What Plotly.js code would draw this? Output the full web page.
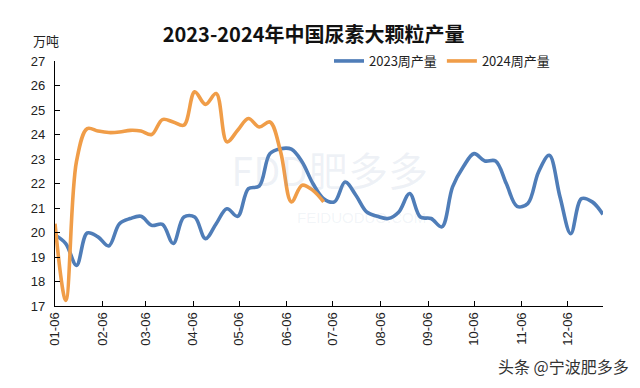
<!DOCTYPE html>
<html><head><meta charset="utf-8">
<script src="https://cdn.plot.ly/plotly-3.0.1.min.js"></script>
<style>html,body{margin:0;padding:0;background:#fff}#c{width:640px;height:388px}</style>
</head><body><div id="c"></div>
<script>
// weekly production, 10k tonnes
const startDate = '2023-01-06';
const values2023 = [19.9,19.55,18.66,19.98,19.82,19.45,20.36,20.57,20.66,20.29,20.33,19.55,20.63,20.63,19.75,20.36,20.97,20.66,21.79,21.89,23.22,23.42,23.4,22.88,22.0,21.38,21.25,22.06,21.52,20.84,20.66,20.57,20.84,21.59,20.63,20.57,20.23,21.86,22.68,23.22,22.92,22.92,22.0,21.07,21.18,22.47,23.15,21.45,19.95,21.38,21.25,20.74];
const values2024 = [20.36,17.23,22.9,24.24,24.14,24.08,24.1,24.17,24.14,24.0,24.61,24.51,24.38,25.74,25.23,25.67,23.7,24.17,24.65,24.31,24.51,23.29,21.25,21.93,21.72,21.25];
const tickDates = ['2023-01-06','2023-02-06','2023-03-06','2023-04-06','2023-05-06','2023-06-06','2023-07-06','2023-08-06','2023-09-06','2023-10-06','2023-11-06','2023-12-06'];
const tickLabels = ['01-06','02-06','03-06','04-06','05-06','06-06','07-06','08-06','09-06','10-06','11-06','12-06'];
const seriesNames = ['2023周产量','2024周产量'];

function weekDates(n){
  const out=[]; const d0=new Date(startDate+'T00:00:00Z');
  for(let i=0;i<n;i++){const d=new Date(d0.getTime()+i*7*86400000);out.push(d.toISOString().slice(0,10));}
  return out;
}
const x23 = weekDates(values2023.length);
const x24 = weekDates(values2024.length);

const cjk = '"Noto Sans CJK SC", "Liberation Sans", sans-serif';
const num = '"Liberation Sans", Arial, sans-serif';
const traces = [
  {x:x23,y:values2023,name:seriesNames[0],type:'scatter',mode:'lines',line:{color:'#4f7db8',width:3.6,shape:'spline',smoothing:1}},
  {x:x24,y:values2024,name:seriesNames[1],type:'scatter',mode:'lines',line:{color:'#f09d48',width:3.6,shape:'spline',smoothing:1}}
];
const layout = {
  width:640,height:388,
  margin:{l:54.5,r:37,t:60.7,b:82.3},
  paper_bgcolor:'#fff',plot_bgcolor:'#fff',
  title:{text:'<b>2023-2024年中国尿素大颗粒产量</b>',font:{family:cjk,size:20,color:'#111'},x:0.49,xanchor:'center',y:0.91,yanchor:'middle'},
  showlegend:true,
  legend:{orientation:'h',x:0.5,xanchor:'left',y:1.0,yanchor:'middle',font:{family:cjk,size:13,color:'#222'},bgcolor:'rgba(0,0,0,0)',itemwidth:30,tracegroupgap:0},
  xaxis:{type:'date',range:['2023-01-06','2023-12-29'],tickvals:tickDates,ticktext:tickLabels,tickangle:-90,
    ticks:'inside',ticklen:5,tickcolor:'#000',showline:true,linecolor:'#000',linewidth:1.2,showgrid:false,zeroline:false,
    tickfont:{family:num,size:13,color:'#222'}},
  yaxis:{range:[17,27],dtick:1,ticks:'inside',ticklen:5,tickcolor:'#000',showline:true,linecolor:'#000',linewidth:1.2,showgrid:false,zeroline:false,
    ticklabelstandoff:6,tickfont:{family:num,size:13,color:'#222'}},
  annotations:[
    {text:'万吨',xref:'paper',yref:'paper',x:-0.017,y:1.085,xanchor:'center',yanchor:'middle',showarrow:false,font:{family:cjk,size:13,color:'#222'}},
    {text:'FDD肥多多',xref:'paper',yref:'paper',x:0.5,y:0.56,xanchor:'center',yanchor:'middle',showarrow:false,font:{family:cjk,size:40,color:'rgba(120,150,190,0.13)'}},
    {text:'FEIDUODUO.COM',xref:'paper',yref:'paper',x:0.56,y:0.36,xanchor:'center',yanchor:'middle',showarrow:false,font:{family:num,size:15,color:'rgba(120,150,190,0.1)'}},
    {text:'头条 @宁波肥多多',xref:'paper',yref:'paper',x:1.052,y:-0.246,xanchor:'right',yanchor:'middle',showarrow:false,font:{family:cjk,size:16,color:'#333'}}
  ]
};
Plotly.newPlot('c',traces,layout,{staticPlot:true,displayModeBar:false});
</script></body></html>
